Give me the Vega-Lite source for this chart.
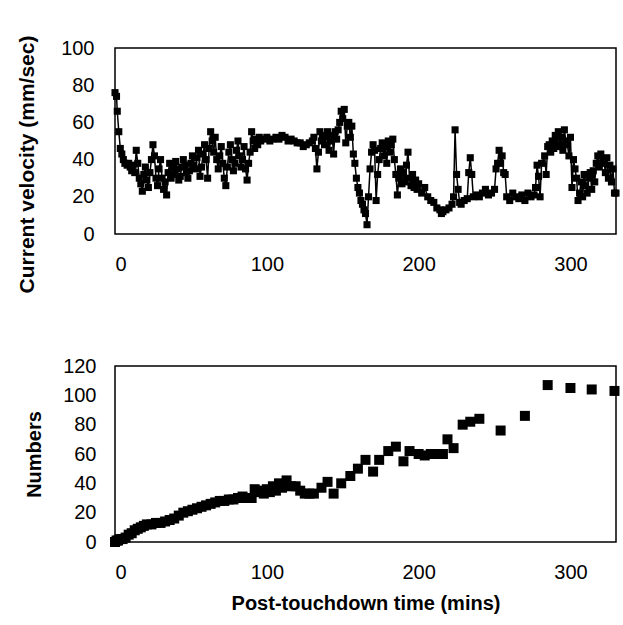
{
  "$schema": "https://vega.github.io/schema/vega-lite/v6.json",
  "background": "white",
  "padding": {"left": 15, "top": 34, "right": 8, "bottom": 10},
  "spacing": 132,
  "bounds": "flush",
  "config": {
    "font": "Liberation Sans",
    "view": {"stroke": "black", "strokeWidth": 1.5},
    "axis": {"grid": false, "domain": false, "ticks": false, "labelFont": "Liberation Sans", "labelFontSize": 20, "labelColor": "black", "titleFont": "Liberation Sans", "titleFontSize": 20, "titleFontWeight": "bold", "titleColor": "black"}
  },
  "datasets": {
    "velocity": [
      {"time":0,"velocity":76},{"time":1,"velocity":74},{"time":1.5,"velocity":66},{"time":2.5,"velocity":55},{"time":3.5,"velocity":46},{"time":4.5,"velocity":43},{"time":5.5,"velocity":40},{"time":6.5,"velocity":38},{"time":8,"velocity":37},{"time":9,"velocity":38},
      {"time":10,"velocity":36},{"time":11,"velocity":34},{"time":12,"velocity":37},{"time":13,"velocity":33},{"time":14,"velocity":45},{"time":15,"velocity":38},{"time":16,"velocity":30},{"time":17,"velocity":27},{"time":18,"velocity":23},{"time":19,"velocity":32},
      {"time":20,"velocity":36},{"time":21,"velocity":29},{"time":22,"velocity":25},{"time":23,"velocity":33},{"time":24,"velocity":40},{"time":25,"velocity":48},{"time":26,"velocity":42},{"time":27,"velocity":30},{"time":28,"velocity":26},{"time":29,"velocity":35},
      {"time":30,"velocity":40},{"time":31,"velocity":30},{"time":32,"velocity":24},{"time":33,"velocity":28},{"time":34,"velocity":21},{"time":35,"velocity":33},{"time":36,"velocity":38},{"time":37,"velocity":30},{"time":38,"velocity":36},{"time":39,"velocity":32},
      {"time":40,"velocity":39},{"time":41,"velocity":35},{"time":42,"velocity":29},{"time":43,"velocity":31},{"time":44,"velocity":36},{"time":45,"velocity":40},{"time":46,"velocity":37},{"time":47,"velocity":33},{"time":48,"velocity":30},{"time":49,"velocity":34},
      {"time":50,"velocity":38},{"time":51,"velocity":42},{"time":52,"velocity":37},{"time":53,"velocity":35},{"time":54,"velocity":41},{"time":55,"velocity":45},{"time":56,"velocity":31},{"time":57,"velocity":36},{"time":58,"velocity":43},{"time":59,"velocity":48},
      {"time":60,"velocity":40},{"time":61,"velocity":30},{"time":62,"velocity":46},{"time":63,"velocity":55},{"time":64,"velocity":50},{"time":65,"velocity":44},{"time":66,"velocity":52},{"time":67,"velocity":40},{"time":68,"velocity":35},{"time":69,"velocity":42},
      {"time":70,"velocity":47},{"time":71,"velocity":38},{"time":72,"velocity":30},{"time":73,"velocity":26},{"time":74,"velocity":36},{"time":75,"velocity":44},{"time":76,"velocity":48},{"time":77,"velocity":40},{"time":78,"velocity":34},{"time":79,"velocity":38},
      {"time":80,"velocity":45},{"time":81,"velocity":50},{"time":82,"velocity":42},{"time":83,"velocity":36},{"time":84,"velocity":40},{"time":85,"velocity":47},{"time":86,"velocity":35},{"time":87,"velocity":29},{"time":88,"velocity":38},{"time":89,"velocity":44},
      {"time":90,"velocity":55},{"time":91,"velocity":50},{"time":92,"velocity":46},{"time":93,"velocity":51},{"time":94,"velocity":48},{"time":95,"velocity":52},{"time":96,"velocity":50},{"time":98,"velocity":51},{"time":100,"velocity":52},{"time":102,"velocity":50},
      {"time":104,"velocity":51},{"time":106,"velocity":52},{"time":108,"velocity":51},{"time":110,"velocity":53},{"time":112,"velocity":52},{"time":114,"velocity":50},{"time":116,"velocity":51},{"time":118,"velocity":50},{"time":120,"velocity":49},{"time":122,"velocity":49},
      {"time":124,"velocity":47},{"time":126,"velocity":48},{"time":128,"velocity":49},{"time":130,"velocity":50},{"time":131,"velocity":52},{"time":132,"velocity":46},{"time":133,"velocity":35},{"time":134,"velocity":44},{"time":135,"velocity":55},{"time":136,"velocity":50},
      {"time":137,"velocity":53},{"time":138,"velocity":48},{"time":139,"velocity":52},{"time":140,"velocity":55},{"time":141,"velocity":45},{"time":142,"velocity":50},{"time":143,"velocity":53},{"time":144,"velocity":43},{"time":145,"velocity":55},{"time":146,"velocity":51},
      {"time":147,"velocity":56},{"time":148,"velocity":60},{"time":149,"velocity":66},{"time":150,"velocity":62},{"time":151,"velocity":67},{"time":152,"velocity":49},{"time":153,"velocity":58},{"time":154,"velocity":60},{"time":155,"velocity":52},{"time":156,"velocity":58},
      {"time":157,"velocity":43},{"time":158,"velocity":38},{"time":159,"velocity":30},{"time":160,"velocity":25},{"time":161,"velocity":22},{"time":162,"velocity":18},{"time":163,"velocity":16},{"time":164,"velocity":13},{"time":165,"velocity":11},{"time":166,"velocity":5},
      {"time":167,"velocity":20},{"time":168,"velocity":35},{"time":169,"velocity":44},{"time":170,"velocity":48},{"time":171,"velocity":45},{"time":172,"velocity":18},{"time":173,"velocity":32},{"time":174,"velocity":40},{"time":175,"velocity":46},{"time":176,"velocity":49},
      {"time":177,"velocity":42},{"time":178,"velocity":47},{"time":179,"velocity":38},{"time":180,"velocity":50},{"time":181,"velocity":44},{"time":182,"velocity":48},{"time":183,"velocity":51},{"time":184,"velocity":40},{"time":185,"velocity":32},{"time":186,"velocity":21},
      {"time":187,"velocity":30},{"time":188,"velocity":35},{"time":189,"velocity":27},{"time":190,"velocity":33},{"time":191,"velocity":28},{"time":192,"velocity":37},{"time":193,"velocity":44},{"time":194,"velocity":30},{"time":195,"velocity":26},{"time":196,"velocity":32},
      {"time":197,"velocity":25},{"time":198,"velocity":29},{"time":199,"velocity":24},{"time":200,"velocity":27},{"time":202,"velocity":22},{"time":204,"velocity":25},{"time":206,"velocity":20},{"time":208,"velocity":18},{"time":210,"velocity":17},{"time":212,"velocity":14},
      {"time":214,"velocity":13},{"time":215,"velocity":11},{"time":216,"velocity":12},{"time":218,"velocity":13},{"time":220,"velocity":14},{"time":222,"velocity":16},{"time":223,"velocity":20},{"time":224,"velocity":56},{"time":225,"velocity":32},{"time":226,"velocity":24},
      {"time":227,"velocity":17},{"time":228,"velocity":16},{"time":230,"velocity":18},{"time":232,"velocity":19},{"time":233,"velocity":33},{"time":234,"velocity":41},{"time":235,"velocity":32},{"time":236,"velocity":20},{"time":238,"velocity":21},{"time":240,"velocity":20},
      {"time":242,"velocity":22},{"time":244,"velocity":24},{"time":246,"velocity":21},{"time":248,"velocity":22},{"time":250,"velocity":24},{"time":251,"velocity":35},{"time":252,"velocity":38},{"time":253,"velocity":45},{"time":254,"velocity":38},{"time":255,"velocity":42},
      {"time":256,"velocity":33},{"time":257,"velocity":32},{"time":258,"velocity":20},{"time":260,"velocity":18},{"time":262,"velocity":22},{"time":264,"velocity":20},{"time":266,"velocity":19},{"time":268,"velocity":21},{"time":270,"velocity":18},{"time":272,"velocity":22},
      {"time":274,"velocity":20},{"time":276,"velocity":21},{"time":277,"velocity":25},{"time":278,"velocity":37},{"time":279,"velocity":31},{"time":280,"velocity":20},{"time":281,"velocity":38},{"time":283,"velocity":42},{"time":284,"velocity":32},{"time":285,"velocity":47},
      {"time":286,"velocity":48},{"time":287,"velocity":44},{"time":288,"velocity":50},{"time":289,"velocity":46},{"time":290,"velocity":53},{"time":291,"velocity":48},{"time":292,"velocity":55},{"time":293,"velocity":47},{"time":294,"velocity":52},{"time":295,"velocity":45},
      {"time":296,"velocity":56},{"time":297,"velocity":50},{"time":298,"velocity":48},{"time":299,"velocity":42},{"time":300,"velocity":52},{"time":301,"velocity":25},{"time":302,"velocity":40},{"time":303,"velocity":35},{"time":304,"velocity":30},{"time":305,"velocity":18},
      {"time":306,"velocity":22},{"time":307,"velocity":28},{"time":308,"velocity":20},{"time":309,"velocity":32},{"time":310,"velocity":26},{"time":311,"velocity":22},{"time":312,"velocity":30},{"time":313,"velocity":33},{"time":314,"velocity":24},{"time":315,"velocity":34},
      {"time":316,"velocity":28},{"time":317,"velocity":38},{"time":318,"velocity":42},{"time":319,"velocity":36},{"time":320,"velocity":43},{"time":321,"velocity":38},{"time":322,"velocity":40},{"time":323,"velocity":33},{"time":324,"velocity":41},{"time":325,"velocity":30},
      {"time":326,"velocity":37},{"time":327,"velocity":28},{"time":328,"velocity":35},{"time":329,"velocity":22},{"time":330,"velocity":22}
    ],
    "numbers": [
      {"time":0,"count":0},{"time":1,"count":1},{"time":2,"count":1},{"time":3,"count":2},{"time":5,"count":2},{"time":7,"count":3},{"time":9,"count":5},{"time":11,"count":6},{"time":13,"count":8},{"time":15,"count":9},
      {"time":17,"count":10},{"time":19,"count":11},{"time":21,"count":12},{"time":24,"count":12},{"time":27,"count":13},{"time":30,"count":13},{"time":33,"count":14},{"time":36,"count":15},{"time":39,"count":16},{"time":42,"count":18},
      {"time":45,"count":20},{"time":48,"count":21},{"time":51,"count":22},{"time":54,"count":23},{"time":57,"count":24},{"time":60,"count":25},{"time":63,"count":26},{"time":66,"count":27},{"time":69,"count":28},{"time":72,"count":28},
      {"time":75,"count":29},{"time":78,"count":29},{"time":81,"count":30},{"time":84,"count":31},{"time":87,"count":30},{"time":90,"count":30},{"time":92,"count":36},{"time":94,"count":35},{"time":96,"count":34},{"time":98,"count":33},
      {"time":100,"count":36},{"time":102,"count":34},{"time":104,"count":38},{"time":106,"count":35},{"time":108,"count":40},{"time":110,"count":37},{"time":113,"count":42},{"time":116,"count":38},{"time":119,"count":38},{"time":122,"count":35},
      {"time":125,"count":33},{"time":128,"count":33},{"time":131,"count":33},{"time":136,"count":37},{"time":140,"count":41},{"time":144,"count":33},{"time":149,"count":40},{"time":155,"count":45},{"time":160,"count":50},{"time":165,"count":56},
      {"time":170,"count":48},{"time":174,"count":56},{"time":180,"count":62},{"time":185,"count":65},{"time":190,"count":55},{"time":194,"count":62},{"time":200,"count":60},{"time":204,"count":59},{"time":208,"count":60},{"time":212,"count":60},
      {"time":216,"count":60},{"time":219,"count":70},{"time":223,"count":64},{"time":229,"count":80},{"time":234,"count":82},{"time":240,"count":84},{"time":254,"count":76},{"time":270,"count":86},{"time":285,"count":107},{"time":300,"count":105},
      {"time":314,"count":104},{"time":329,"count":103}
    ]
  },
  "vconcat": [
    {
      "width": 501,
      "height": 186,
      "data": {"name": "velocity"},
      "encoding": {
        "x": {"field": "time", "type": "quantitative", "scale": {"domain": [0, 330], "nice": false}, "axis": {"values": [0, 100, 200, 300], "title": null, "labelPadding": 20}},
        "y": {"field": "velocity", "type": "quantitative", "scale": {"domain": [0, 100], "nice": false}, "axis": {"values": [0, 20, 40, 60, 80, 100], "title": "Current velocity (mm/sec)", "labelPadding": 21, "titleX": -88, "titleY": 116, "titleFontSize": 21, "titleBaseline": "middle", "titleAlign": "center"}}
      },
      "layer": [
        {"mark": {"type": "line", "color": "black", "strokeWidth": 1.5}},
        {"mark": {"type": "square", "color": "black", "filled": true, "opacity": 1, "size": 50}}
      ]
    },
    {
      "width": 501,
      "height": 176,
      "data": {"name": "numbers"},
      "mark": {"type": "square", "color": "black", "filled": true, "opacity": 1, "size": 100},
      "encoding": {
        "x": {"field": "time", "type": "quantitative", "scale": {"domain": [0, 330], "nice": false}, "axis": {"values": [0, 100, 200, 300], "title": "Post-touchdown time (mins)", "labelPadding": 20, "titlePadding": 11}},
        "y": {"field": "count", "type": "quantitative", "scale": {"domain": [0, 120], "nice": false}, "axis": {"values": [0, 20, 40, 60, 80, 100, 120], "title": "Numbers", "labelPadding": 19, "titleX": -81, "titleBaseline": "middle", "titleAlign": "center"}}
      }
    }
  ]
}
